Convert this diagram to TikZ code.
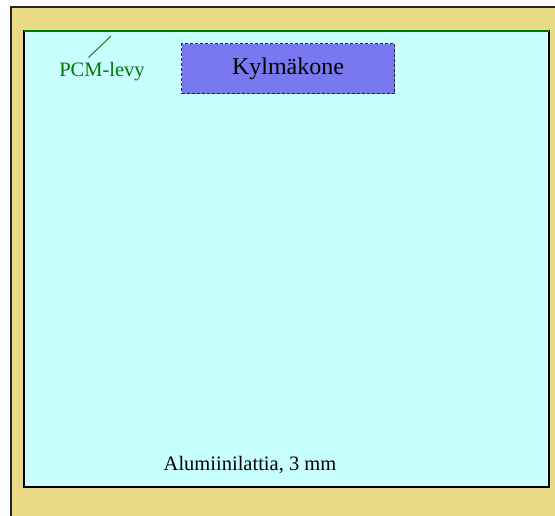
\documentclass[tikz,border=0pt]{standalone}
\usepackage{fontspec}
\setmainfont{Liberation Serif}
\definecolor{frametan}{RGB}{233,218,134}
\definecolor{floorcyan}{RGB}{200,255,255}
\definecolor{unitblue}{RGB}{120,120,240}
\definecolor{pcmgreen}{RGB}{0,120,0}
\tikzset{
  lbl/.style={inner sep=0pt, font=\fontsize{20.5}{24}\selectfont},
}
\begin{document}
\begin{tikzpicture}[x=1pt,y=-1pt]
\useasboundingbox (0,0) rectangle (555,515);
\fill[white] (0,0) rectangle (555,515);
% outer frame
\draw[line width=2pt, fill=frametan, draw=black!85] (11,7) rectangle (570,530);
% aluminium floor
\draw[line width=1.8pt, fill=floorcyan, draw=black] (24,31) rectangle (549,487);
\draw[line width=2.2pt, draw=pcmgreen] (24,31) -- (549,31);
% cooling unit
\node[draw=black!85, dash pattern=on 3pt off 2pt, fill=unitblue, line width=1.1pt, minimum width=213pt, minimum height=50pt, inner sep=0pt, anchor=north west, font=\fontsize{24}{28}\selectfont] (unit) at (181,43) {\raisebox{-3pt}{Kylmäkone}};
% labels
\node[lbl, text=pcmgreen] (pcm) at (102,72) {PCM-levy};
\coordinate (pcmtip) at (111,36);
\draw[pcmgreen, line width=0.9pt] (88.5,57.5) -- (pcmtip);
\node[lbl] (floor) at (250,465) {Alumiinilattia, 3 mm};
\end{tikzpicture}
\end{document}
